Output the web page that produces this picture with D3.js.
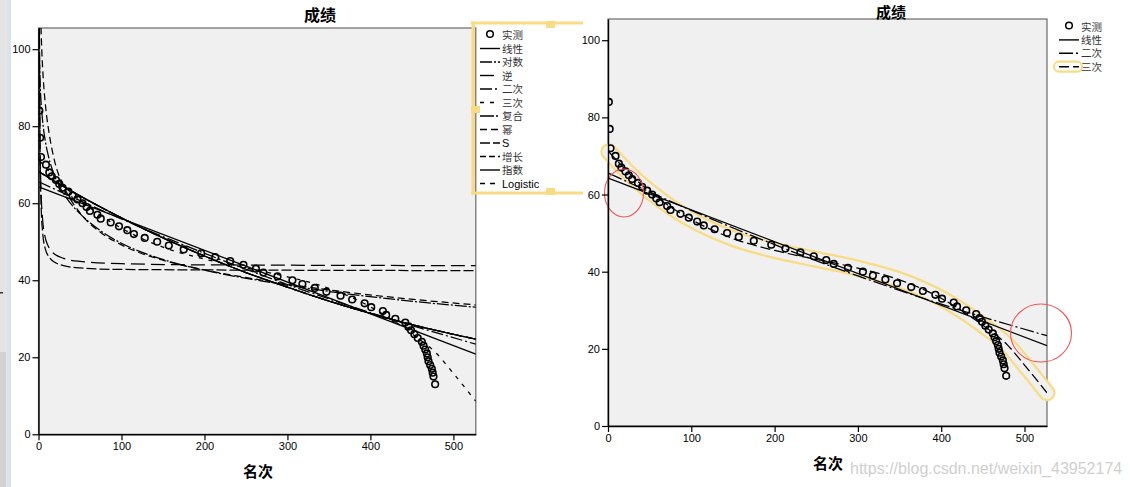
<!DOCTYPE html>
<html><head><meta charset="utf-8">
<script src="https://cdn.jsdelivr.net/npm/d3@7"></script>
<style>
html,body{margin:0;padding:0;background:#fff;}
svg{display:block;}
</style></head><body>
<svg id="c" width="1130" height="487"></svg>
<script>
// ---------------- data ----------------
const ranks  = [1,2,3,9,13,16,21,25,29,36,41,47,53,58,62,71,75,87,97,107,115,128,143,157,175,196,213,231,247,262,271,288,306,318,333,347,364,378,393,401,415,419,430,442,446,449,453,457,462,464,466,468,469,470,472,474,475,476,478];
const scores = [84,77,72,70,68,67,66,65,64,63,62,61,60,59,58,57,56,55,54,53,52,51,50,49,48,47,46,45,44,43,42,41,40,39,38,37,36,35,34,33,32,31,30,29,28,27,26,25,24,23,22,21,20,19,18,17,16,15,13];

// fitted curves (rank, score)
const linearX = [1, 527];
const linearY = [64.2, 20.8];
const quadX = [1, 100, 200, 300, 400, 527];
const quadY = [65.5, 55.9, 47.0, 38.9, 31.6, 23.4];
const cubicX = [1, 25, 50, 75, 100, 150, 200, 250, 300, 350, 400, 450, 480, 500, 527];
const cubicY = [71.1, 65.6, 60.8, 56.8, 53.5, 48.6, 45.5, 43.2, 40.9, 37.9, 33.1, 26.1, 20.9, 15.8, 8.6];
const logX = [1, 2, 3, 5, 8, 12, 20, 35, 50, 75, 100, 150, 200, 270, 350, 430, 527];
const logY = [98, 90.8, 86.6, 81.3, 76.4, 72.2, 66.8, 61, 57.3, 52.8, 49.6, 45.4, 42.6, 39.8, 37.1, 35, 33.0];
const powX = [3, 4, 6, 9, 13, 20, 30, 50, 75, 100, 150, 200, 270, 350, 430, 527];
const powY = [105.7, 99.5, 91.5, 84.2, 77.9, 70.4, 64.6, 57.5, 52.4, 49.2, 45.2, 42.7, 40.0, 37.5, 35.5, 33.6];
const invX = [1, 2, 3, 5, 8, 11, 15, 20, 30, 50, 100, 200, 527];
const invY = [103.7, 73.7, 63.7, 55.7, 51.2, 49.2, 47.7, 46.7, 45.7, 44.9, 44.3, 44, 43.8];
const sX = [1, 1.5, 2, 3, 5, 8, 14, 20, 30, 50, 100, 527];
const sY = [123, 86.2, 72.2, 60.3, 52.4, 48.3, 45.7, 44.6, 43.8, 43.2, 42.8, 42.5];
const expX = [1, 50, 100, 150, 200, 250, 300, 350, 400, 450, 527];
const expY = [68.1, 61.9, 56.2, 51, 46.3, 42, 38.2, 34.6, 31.4, 28.5, 24.7];

const xDomain = [0, 527];
const yDomain = [0, 105.5];
const xTicks = [0, 100, 200, 300, 400, 500];
const yTicks = [0, 20, 40, 60, 80, 100];

const leftNames  = ["实测","线性","对数","逆","二次","三次","复合","幂","S","增长","指数","Logistic"];
const rightNames = ["实测","线性","二次","三次"];

// annotation marks on the right chart (data units)
const redMarksX = [19.2, 519.8];
const redMarksY = [60.4, 24.1];

// ---------------- styles ----------------
const dashes = {
  "线性": null, "对数": "12,2,2,2", "逆": "14,6", "二次": "12,3,2,3", "三次": "4,6",
  "复合": "14,2,2,2", "幂": "7,4", "S": "10,3", "增长": "6,3", "指数": null, "Logistic": "5,5"
};
const rightDashes = { "线性": null, "二次": "14,3,2,3", "三次": "10,4" };
const series = {
  "线性": [linearX, linearY], "对数": [logX, logY], "逆": [invX, invY], "二次": [quadX, quadY],
  "三次": [cubicX, cubicY], "复合": [expX, expY], "幂": [powX, powY], "S": [sX, sY],
  "增长": [expX, expY], "指数": [expX, expY], "Logistic": [expX, expY]
};
const YEL = "#f8dc84";
const CJK = "'Noto Sans CJK SC', sans-serif";
const LAT = "'Liberation Sans', Arial, sans-serif";

const svg = d3.select("#c");
svg.append("rect").attr("width", 1130).attr("height", 487).attr("fill", "#fff");

// window edge strip on the far left
svg.append("rect").attr("x", 0).attr("y", 0).attr("width", 7).attr("height", 487).attr("fill", "#e4e4e4");
svg.append("rect").attr("x", 7).attr("y", 0).attr("width", 4).attr("height", 487).attr("fill", "#dae2eb");
svg.append("rect").attr("x", 0).attr("y", 352).attr("width", 6).attr("height", 135).attr("fill", "#d2d2d2");
svg.append("rect").attr("x", 0).attr("y", 292).attr("width", 3).attr("height", 1.5).attr("fill", "#333");

function panel(cfg) {
  const x = d3.scaleLinear().domain(xDomain).range([cfg.x0, cfg.x1]);
  const y = d3.scaleLinear().domain(yDomain).range([cfg.y1, cfg.y0]);
  const g = svg.append("g");
  const cid = "clip" + cfg.id;
  g.append("clipPath").attr("id", cid).append("rect")
    .attr("x", cfg.x0).attr("y", cfg.y0).attr("width", cfg.x1 - cfg.x0).attr("height", cfg.y1 - cfg.y0);
  g.append("rect").attr("x", cfg.x0).attr("y", cfg.y0).attr("width", cfg.x1 - cfg.x0)
    .attr("height", cfg.y1 - cfg.y0).attr("fill", "#f0f0f0").attr("stroke", "#6a6a6a").attr("stroke-width", 1.2);

  const line = d3.line().x(d => x(d[0])).y(d => y(d[1])).curve(d3.curveMonotoneX);

  if (cfg.loop) {
    const pts = d3.zip(cubicX, cubicY);
    g.append("path").attr("d", line(pts)).attr("fill", "none").attr("stroke", YEL)
      .attr("stroke-width", 17).attr("stroke-linecap", "round").attr("stroke-linejoin", "round");
    g.append("path").attr("d", line(pts)).attr("fill", "none").attr("stroke", "#f0f0f0")
      .attr("stroke-width", 12.5).attr("stroke-linecap", "round").attr("stroke-linejoin", "round");
  }

  const cg = g.append("g").attr("clip-path", `url(#${cid})`);
  cg.selectAll("circle.pt").data(d3.zip(ranks, scores)).join("circle").attr("class", "pt")
    .attr("cx", d => x(d[0])).attr("cy", d => y(d[1])).attr("r", 3.3)
    .attr("fill", "none").attr("stroke", "#000").attr("stroke-width", 1.6);

  cfg.names.slice(1).forEach(n => {
    const [X, Y] = series[n];
    cg.append("path").attr("d", line(d3.zip(X, Y))).attr("fill", "none")
      .attr("stroke", "#000").attr("stroke-width", 1.25)
      .attr("stroke-dasharray", cfg.dash[n]);
  });

  if (cfg.red) {
    d3.zip(redMarksX, redMarksY).forEach((d, i) => {
      g.append("ellipse").attr("cx", x(d[0])).attr("cy", y(d[1]))
        .attr("rx", i === 0 ? 19.5 : 30.5).attr("ry", i === 0 ? 24 : 29)
        .attr("fill", "none").attr("stroke", "#f05555").attr("stroke-width", 1.1);
    });
  }

  const ax = g.append("g").attr("transform", `translate(0,${cfg.y1})`)
    .call(d3.axisBottom(x).tickValues(xTicks).tickSize(6).tickSizeOuter(0).tickPadding(2));
  const ay = g.append("g").attr("transform", `translate(${cfg.x0},0)`)
    .call(d3.axisLeft(y).tickValues(yTicks).tickSize(6).tickSizeOuter(0).tickPadding(2));
  [ax, ay].forEach(a => {
    a.select(".domain").attr("stroke", "#000").attr("stroke-width", 1.4);
    a.selectAll(".tick line").attr("stroke", "#000").attr("stroke-width", 1.2);
    a.selectAll(".tick text").attr("fill", "#000").style("font-family", LAT).style("font-size", "11px");
  });

  g.append("text").attr("x", cfg.titleX).attr("y", cfg.titleY).attr("text-anchor", "middle")
    .style("font-family", CJK).style("font-size", cfg.titleSize).style("font-weight", "bold").text("成绩");
  g.append("text").attr("x", cfg.labX).attr("y", cfg.labY).attr("text-anchor", "middle")
    .style("font-family", CJK).style("font-size", "15px").style("font-weight", "bold").text("名次");

  // legend
  const lg = svg.append("g");
  cfg.names.forEach((n, i) => {
    const yy = cfg.legY + i * cfg.legStep;
    if (i === 0) {
      lg.append("circle").attr("cx", cfg.legX + 10).attr("cy", yy - 1).attr("r", 3.3)
        .attr("fill", "none").attr("stroke", "#000").attr("stroke-width", 1.5);
    } else {
      if (cfg.hl === n) {
        lg.append("rect").attr("x", cfg.legX - 5).attr("y", yy - 5).attr("width", 28).attr("height", 10)
          .attr("rx", 5).attr("fill", "none").attr("stroke", YEL).attr("stroke-width", 2.2);
      }
      lg.append("line").attr("x1", cfg.legX).attr("x2", cfg.legX + 20).attr("y1", yy).attr("y2", yy)
        .attr("stroke", "#000").attr("stroke-width", 1.4).attr("stroke-dasharray", cfg.dash[n]);
    }
    const latin = /^[A-Za-z]/.test(n);
    lg.append("text").attr("x", cfg.legX + 22).attr("y", yy + 4)
      .style("font-family", latin ? LAT : CJK).style("font-size", latin ? "11px" : "10.5px")
      .attr("fill", latin ? "#000" : "#333").text(n);
  });
}

panel({ id: "L", x0: 38.5, x1: 475.8, y0: 28, y1: 434.3, names: leftNames, dash: dashes,
  titleX: 320, titleY: 21, titleSize: "16px", labX: 258, labY: 477, legX: 480, legY: 35, legStep: 13.5 });
panel({ id: "R", x0: 608, x1: 1047, y0: 19, y1: 426, names: rightNames, dash: rightDashes,
  titleX: 891, titleY: 17.5, titleSize: "15px", labX: 828, labY: 469, legX: 1059, legY: 26.5, legStep: 13.4,
  loop: true, red: true, hl: "三次" });

// yellow selection frame around the left legend (drawn on top)
const yf = svg.append("g").attr("fill", YEL);
yf.append("rect").attr("x", 471).attr("y", 21.5).attr("width", 112).attr("height", 3);
yf.append("rect").attr("x", 471.5).attr("y", 21.5).attr("width", 3.5).attr("height", 173);
yf.append("rect").attr("x", 471).attr("y", 191.5).attr("width", 112).attr("height", 3);
yf.append("rect").attr("x", 546).attr("y", 21).attr("width", 9).attr("height", 7);
yf.append("rect").attr("x", 471).attr("y", 106).attr("width", 9).attr("height", 7);
yf.append("rect").attr("x", 546).attr("y", 188).attr("width", 9).attr("height", 7);

// watermark
svg.append("text").attr("x", 850).attr("y", 474).style("font-family", LAT).style("font-size", "16px")
  .attr("fill", "#cfcfcf").text("https://blog.csdn.net/weixin_43952174");
</script>
</body></html>
